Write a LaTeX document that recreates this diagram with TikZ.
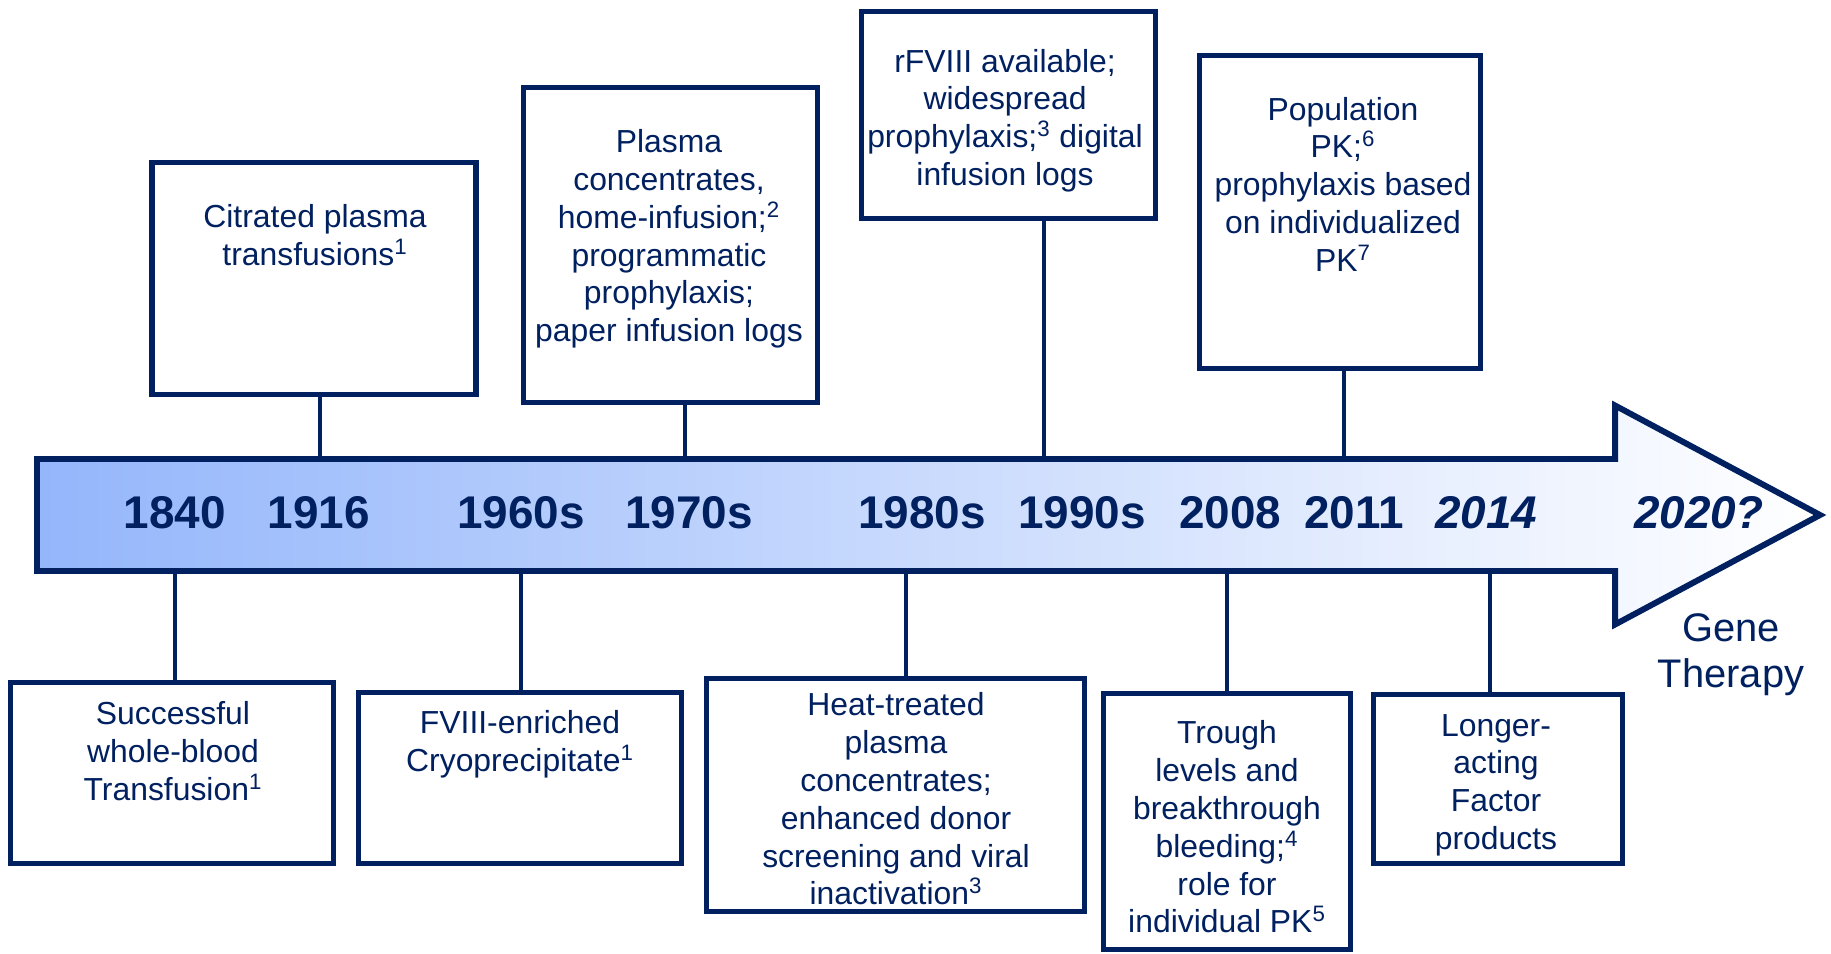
\documentclass[tikz,border=0pt]{standalone}
\usepackage{fontspec}
\setmainfont{Liberation Sans}
\usetikzlibrary{positioning}

\definecolor{navy}{RGB}{0,32,96}
\definecolor{barblue}{RGB}{148,182,251}

\begin{document}
\begin{tikzpicture}[x=0.02cm,y=-0.02cm,
    box/.style={draw=navy,line width=3.2pt,fill=white,inner sep=0pt},
    txt/.style={text=navy,align=center,inner sep=0pt,font=\fontsize{18.14}{21.5}\selectfont},
    year/.style={text=navy,anchor=base,inner sep=0pt,font=\fontsize{26.1}{30}\selectfont\bfseries},
    conn/.style={draw=navy,line width=2.3pt}]
    \useasboundingbox (0,0) rectangle (1831,953);

    % Timeline arrow
    \shadedraw[draw=navy,line width=3.4pt,left color=barblue,right color=white]
        (37,459) -- (1615,459) -- (1615,405.5) -- (1820,515) -- (1615,624.5)
        -- (1615,571) -- (37,571) -- cycle;

    % Years
    \node[year] (y1840) at (175,528) {1840};
    \node[year] (y1916) at (319,528) {1916};
    \node[year] (y1960) at (521,528) {1960s};
    \node[year] (y1970) at (689,528) {1970s};
    \node[year] (y1980) at (922,528) {1980s};
    \node[year] (y1990) at (1082,528) {1990s};
    \node[year] (y2008) at (1230,528) {2008};
    \node[year] (y2011) at (1354,528) {2011};
    \node[year] (y2014) at (1486,528) {\itshape 2014};
    \node[year] (y2020) at (1699,528) {\itshape 2020?};

    % Ends of the connectors on the arrow
    \coordinate (c1916) at (320,459);
    \coordinate (c1970) at (685,459);
    \coordinate (c1990) at (1044,459);
    \coordinate (c2011) at (1344,459);
    \coordinate (c1840) at (175,571);
    \coordinate (c1960) at (521,571);
    \coordinate (c1980) at (906,571);
    \coordinate (c2008) at (1227,571);
    \coordinate (c2014) at (1490,571);

    % Top boxes
    \node[box,minimum width=6.48cm,minimum height=4.64cm] (b1916) at (314,278.5) {};
    \node[box,minimum width=5.88cm,minimum height=6.30cm] (b1970) at (670.5,245) {};
    \node[box,minimum width=5.88cm,minimum height=4.14cm] (b1990) at (1008.5,115) {};
    \node[box,minimum width=5.62cm,minimum height=6.26cm] (b2011) at (1340,212) {};

    \node[txt] (t1916) at (315,235) {Citrated plasma\\transfusions\textsuperscript{1}};
    \node[txt] (t1970) at (669,239) {Plasma\\concentrates,\\home-infusion;\textsuperscript{2}\\programmatic\\prophylaxis;\\paper infusion logs};
    \node[txt] (t1990) at (1005,120.5) {rFVIII available;\\widespread\\prophylaxis;\textsuperscript{3} digital\\infusion logs};
    \node[txt] (t2011) at (1343,184) {Population\\PK;\textsuperscript{6}\\prophylaxis based\\on individualized\\PK\textsuperscript{7}};

    % Bottom boxes
    \node[box,minimum width=6.46cm,minimum height=3.62cm] (b1840) at (172,773) {};
    \node[box,minimum width=6.46cm,minimum height=3.42cm] (b1960) at (520,778) {};
    \node[box,minimum width=7.56cm,minimum height=4.66cm] (b1980) at (895.5,795) {};
    \node[box,minimum width=4.94cm,minimum height=5.12cm] (b2008) at (1227,821.5) {};
    \node[box,minimum width=4.98cm,minimum height=3.38cm] (b2014) at (1498,779) {};

    \node[txt] (t1840) at (173,751) {Successful\\whole-blood\\Transfusion\textsuperscript{1}};
    \node[txt] (t1960) at (520,744) {FVIII-enriched\\Cryoprecipitate\textsuperscript{1}};
    \node[txt] (t1980) at (896,799) {Heat-treated\\plasma\\concentrates;\\enhanced donor\\screening and viral\\inactivation\textsuperscript{3}};
    \node[txt] (t2008) at (1227,827) {Trough\\levels and\\breakthrough\\bleeding;\textsuperscript{4}\\role for\\individual PK\textsuperscript{5}};
    \node[txt] (t2014) at (1496,785) {Longer-\\acting\\Factor\\products};

    % Connectors
    \draw[conn] (b1916.south -| c1916) -- (c1916);
    \draw[conn] (b1970.south -| c1970) -- (c1970);
    \draw[conn] (b1990.south -| c1990) -- (c1990);
    \draw[conn] (b2011.south -| c2011) -- (c2011);
    \draw[conn] (b1840.north -| c1840) -- (c1840);
    \draw[conn] (b1960.north -| c1960) -- (c1960);
    \draw[conn] (b1980.north -| c1980) -- (c1980);
    \draw[conn] (b2008.north -| c2008) -- (c2008);
    \draw[conn] (b2014.north -| c2014) -- (c2014);

    % Gene therapy
    \node[text=navy,align=center,inner sep=0pt,font=\fontsize{22.7}{26.1}\selectfont]
        (gene) at (1731,655) {Gene\\Therapy};
\end{tikzpicture}
\end{document}
